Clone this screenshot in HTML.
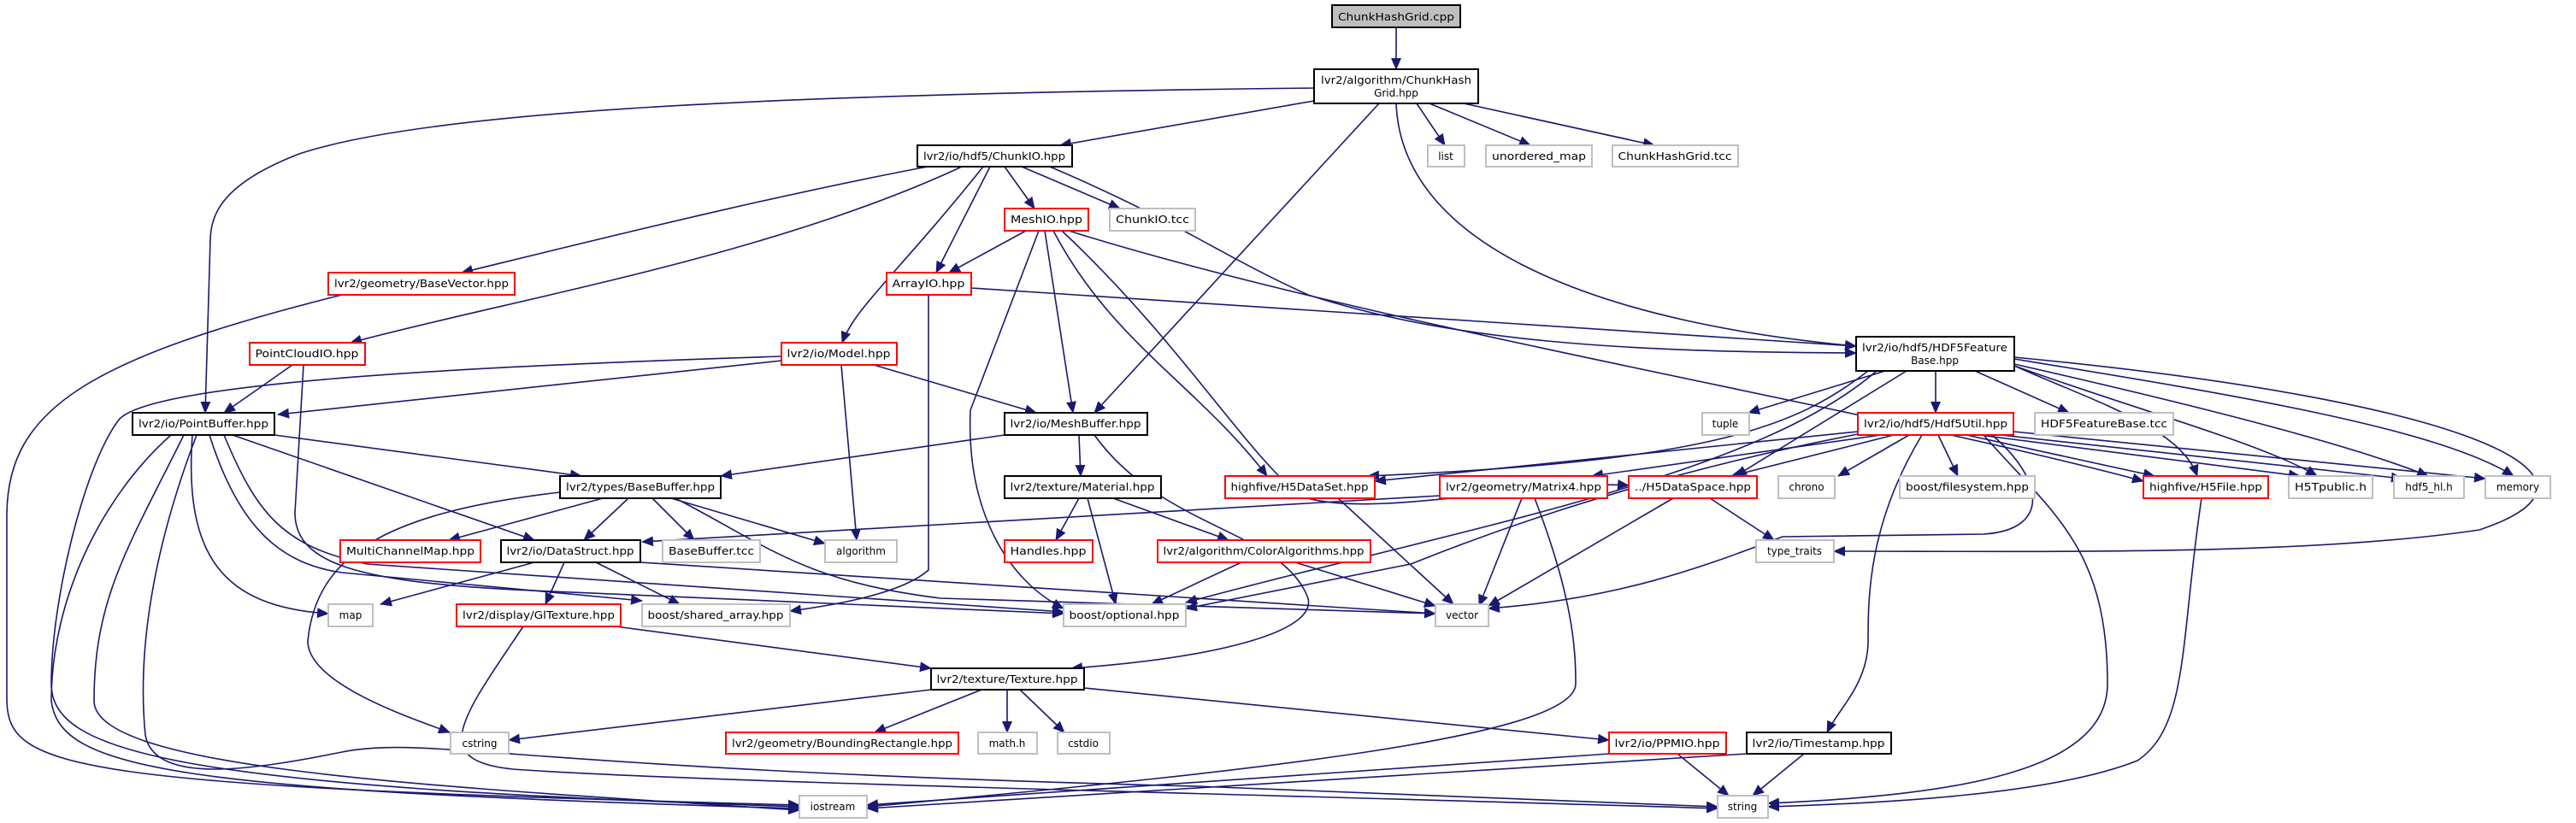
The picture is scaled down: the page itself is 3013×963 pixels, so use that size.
<!DOCTYPE html>
<html><head><meta charset="utf-8"><style>
html,body{margin:0;padding:0;background:#fff;}
svg{display:block}
text{font-family:"DejaVu Sans","Liberation Sans",sans-serif;font-size:12px;fill:#000}
.e{fill:none;stroke:#191970;stroke-width:1.6}
.b{fill:#fff;stroke:#000;stroke-width:2}
.r{fill:#fff;stroke:#ff0000;stroke-width:2}
.g{fill:#fff;stroke:#bfbfbf;stroke-width:2}
</style></head><body>
<svg width="3013" height="963" viewBox="0 0 3013 963" xmlns="http://www.w3.org/2000/svg">
<defs><marker id="a" markerUnits="userSpaceOnUse" markerWidth="14" markerHeight="12" refX="13" refY="6" orient="auto"><path d="M0,0 L14,6 L0,12 z" fill="#191970"/></marker></defs>
<g class="e" marker-end="url(#a)">
<path d="M1633,32 L1633,81"/>
<path d="M1537,118 L1240,170"/>
<path d="M1537,103 C900,110 500,130 350,180 C260,215 247,250 246,280 L240,483"/>
<path d="M1613,121 L1280,483"/>
<path d="M1657,121 L1690,170"/>
<path d="M1672,121 L1790,170"/>
<path d="M1712,121 L1935,170"/>
<path d="M1633,121 C1640,300 1900,380 2171,405"/>
<path d="M1085,195 C900,230 700,280 540,319"/>
<path d="M1125,195 C900,300 600,350 410,401"/>
<path d="M1150,195 C1050,320 1000,360 985,401"/>
<path d="M1158,195 L1095,319"/>
<path d="M1175,195 L1210,244"/>
<path d="M1195,195 L1310,244"/>
<path d="M1228,195 C1380,260 1430,300 1530,345 C1700,400 1900,412 2171,413"/>
<path d="M1200,270 L1110,319"/>
<path d="M1222,270 L1255,483"/>
<path d="M1215,270 L1135,480 C1130,600 1180,680 1244,712"/>
<path d="M1232,270 C1300,400 1400,450 1482,557"/>
<path d="M1242,270 C1380,400 1450,520 1520,580 C1600,610 1800,560 1905,568"/>
<path d="M1250,270 C1600,380 2200,480 2507,563"/>
<path d="M1136,337 L2171,405"/>
<path d="M1086,345 L1086,667 C1060,690 1000,705 924,715"/>
<path d="M342,427 L262,483"/>
<path d="M355,427 L345,600 C345,660 420,680 600,690 L1244,718"/>
<path d="M914,422 L325,485"/>
<path d="M914,417 C500,430 180,450 140,490 C100,540 60,700 60,800 C60,880 200,920 935,944"/>
<path d="M984,427 L1002,632"/>
<path d="M1022,427 L1212,483"/>
<path d="M321,509 L680,557"/>
<path d="M272,509 L625,632"/>
<path d="M225,509 C215,650 260,710 384,718"/>
<path d="M245,509 C280,620 330,660 400,670 L751,703"/>
<path d="M262,509 C300,600 330,640 430,660 L1244,716"/>
<path d="M200,509 C120,580 60,700 60,820 C70,900 200,925 935,946"/>
<path d="M215,509 C150,640 110,700 110,820 C110,900 500,920 935,948"/>
<path d="M230,509 C180,640 160,760 170,860 C180,920 300,900 400,880 C500,860 600,900 1400,920 L2009,944"/>
<path d="M400,345 C100,420 10,480 8,600 L8,820 C10,900 80,920 935,942"/>
<path d="M705,583 L525,632"/>
<path d="M735,583 L683,632"/>
<path d="M763,583 L812,632"/>
<path d="M785,583 L965,636"/>
<path d="M655,576 C450,600 370,650 360,750 C360,800 480,840 526,857"/>
<path d="M790,583 C900,640 940,680 1100,700 L1679,718"/>
<path d="M1175,509 L843,557"/>
<path d="M1262,509 L1264,557"/>
<path d="M1280,509 C1360,620 1500,620 1530,700 C1540,740 1420,770 1253,782"/>
<path d="M1262,583 L1235,632"/>
<path d="M1272,583 L1305,707"/>
<path d="M1302,583 L1437,632"/>
<path d="M1452,658 L1347,707"/>
<path d="M1515,658 L1679,709"/>
<path d="M625,658 L445,707"/>
<path d="M660,658 L638,707"/>
<path d="M697,658 L795,707"/>
<path d="M749,658 L1679,718"/>
<path d="M720,733 L1089,782"/>
<path d="M612,733 C540,840 500,890 600,900 C800,915 1500,930 2009,946"/>
<path d="M1089,807 L595,866"/>
<path d="M1148,807 L1023,857"/>
<path d="M1178,807 L1178,857"/>
<path d="M1193,807 L1245,857"/>
<path d="M1268,805 L1882,866"/>
<path d="M1882,882 L1014,942"/>
<path d="M1962,882 L2022,931"/>
<path d="M2043,882 L1014,946"/>
<path d="M2110,882 L2050,931"/>
<path d="M1684,580 L751,634"/>
<path d="M1780,583 L1730,709"/>
<path d="M1795,583 C1840,700 1843,760 1843,800 C1843,860 1500,900 1014,944"/>
<path d="M1957,583 L1741,709"/>
<path d="M2000,583 L2075,632"/>
<path d="M1565,583 L1700,707"/>
<path d="M2575,583 C2550,750 2560,850 2500,890 C2400,930 2200,940 2068,944"/>
<path d="M2173,505 L1608,563"/>
<path d="M2200,509 L1862,557"/>
<path d="M2215,509 L2025,557"/>
<path d="M2233,509 L2150,557"/>
<path d="M2267,509 L2290,557"/>
<path d="M2300,509 L2520,557"/>
<path d="M2315,509 L2690,557"/>
<path d="M2340,509 L2810,560"/>
<path d="M2355,505 L2907,560"/>
<path d="M2248,509 C2185,613 2185,700 2185,750 C2185,800 2150,830 2137,857"/>
<path d="M2320,509 C2400,600 2465,640 2465,800 C2465,900 2300,930 2068,940"/>
<path d="M2330,509 C2390,560 2400,620 2320,625 L2085,628 C2000,660 1900,700 1741,712"/>
<path d="M2173,508 C1900,560 1700,640 1650,660 L1387,712"/>
<path d="M2205,434 L2045,483"/>
<path d="M2264,434 L2264,483"/>
<path d="M2310,434 L2420,483"/>
<path d="M2185,434 C2100,500 2000,540 1600,557"/>
<path d="M2230,434 L2030,557"/>
<path d="M2356,428 C2450,470 2550,500 2570,557"/>
<path d="M2356,428 C2500,480 2650,520 2710,557"/>
<path d="M2356,426 C2550,470 2750,520 2840,557"/>
<path d="M2356,420 C2600,460 2850,500 2940,557"/>
<path d="M2356,418 C2900,470 3080,560 2900,620 C2700,650 2400,645 2145,645"/>
<path d="M2195,434 C2050,560 1700,620 1387,705"/>
</g>
<g>
<rect x="1558" y="6" width="150" height="26" fill="#bfbfbf" stroke="#000" stroke-width="2"/><text x="1633" y="24" text-anchor="middle" textLength="136" lengthAdjust="spacingAndGlyphs">ChunkHashGrid.cpp</text>
<rect class="b" x="1537" y="81" width="192" height="40"/><text x="1633" y="98" text-anchor="middle" textLength="176" lengthAdjust="spacingAndGlyphs">lvr2/algorithm/ChunkHash</text><text x="1633" y="113" text-anchor="middle">Grid.hpp</text>
<rect class="g" x="1670" y="170" width="43" height="25"/><text x="1691" y="187" text-anchor="middle">list</text>
<rect class="g" x="1738" y="170" width="124" height="25"/><text x="1800" y="187" text-anchor="middle" textLength="110" lengthAdjust="spacingAndGlyphs">unordered_map</text>
<rect class="g" x="1886" y="170" width="147" height="25"/><text x="1959" y="187" text-anchor="middle" textLength="133" lengthAdjust="spacingAndGlyphs">ChunkHashGrid.tcc</text>
<rect class="b" x="2171" y="394" width="185" height="40"/><text x="2263" y="411" text-anchor="middle" textLength="170" lengthAdjust="spacingAndGlyphs">lvr2/io/hdf5/HDF5Feature</text><text x="2263" y="426" text-anchor="middle">Base.hpp</text>
<rect class="b" x="1073" y="170" width="181" height="25"/><text x="1163" y="187" text-anchor="middle" textLength="166" lengthAdjust="spacingAndGlyphs">lvr2/io/hdf5/ChunkIO.hpp</text>
<rect class="r" x="1175" y="244" width="98" height="26"/><text x="1224" y="261" text-anchor="middle" textLength="84" lengthAdjust="spacingAndGlyphs">MeshIO.hpp</text>
<rect class="g" x="1298" y="244" width="100" height="26"/><text x="1348" y="261" text-anchor="middle" textLength="86" lengthAdjust="spacingAndGlyphs">ChunkIO.tcc</text>
<rect class="r" x="384" y="319" width="218" height="26"/><text x="493" y="336" text-anchor="middle" textLength="204" lengthAdjust="spacingAndGlyphs">lvr2/geometry/BaseVector.hpp</text>
<rect class="r" x="1037" y="319" width="99" height="26"/><text x="1086" y="336" text-anchor="middle" textLength="85" lengthAdjust="spacingAndGlyphs">ArrayIO.hpp</text>
<rect class="r" x="292" y="401" width="135" height="26"/><text x="359" y="418" text-anchor="middle" textLength="121" lengthAdjust="spacingAndGlyphs">PointCloudIO.hpp</text>
<rect class="r" x="914" y="401" width="135" height="26"/><text x="981" y="418" text-anchor="middle" textLength="121" lengthAdjust="spacingAndGlyphs">lvr2/io/Model.hpp</text>
<rect class="b" x="155" y="483" width="166" height="26"/><text x="238" y="500" text-anchor="middle" textLength="152" lengthAdjust="spacingAndGlyphs">lvr2/io/PointBuffer.hpp</text>
<rect class="b" x="1175" y="483" width="167" height="26"/><text x="1258" y="500" text-anchor="middle" textLength="153" lengthAdjust="spacingAndGlyphs">lvr2/io/MeshBuffer.hpp</text>
<rect class="g" x="1991" y="483" width="55" height="26"/><text x="2018" y="500" text-anchor="middle">tuple</text>
<rect class="r" x="2173" y="483" width="182" height="26"/><text x="2264" y="500" text-anchor="middle" textLength="168" lengthAdjust="spacingAndGlyphs">lvr2/io/hdf5/Hdf5Util.hpp</text>
<rect class="g" x="2380" y="483" width="162" height="26"/><text x="2461" y="500" text-anchor="middle" textLength="148" lengthAdjust="spacingAndGlyphs">HDF5FeatureBase.tcc</text>
<rect class="b" x="655" y="557" width="188" height="26"/><text x="749" y="574" text-anchor="middle" textLength="174" lengthAdjust="spacingAndGlyphs">lvr2/types/BaseBuffer.hpp</text>
<rect class="b" x="1175" y="557" width="183" height="26"/><text x="1266" y="574" text-anchor="middle" textLength="169" lengthAdjust="spacingAndGlyphs">lvr2/texture/Material.hpp</text>
<rect class="r" x="1433" y="557" width="175" height="26"/><text x="1520" y="574" text-anchor="middle" textLength="161" lengthAdjust="spacingAndGlyphs">highfive/H5DataSet.hpp</text>
<rect class="r" x="1684" y="557" width="196" height="26"/><text x="1782" y="574" text-anchor="middle" textLength="182" lengthAdjust="spacingAndGlyphs">lvr2/geometry/Matrix4.hpp</text>
<rect class="r" x="1905" y="557" width="150" height="26"/><text x="1980" y="574" text-anchor="middle" textLength="136" lengthAdjust="spacingAndGlyphs">../H5DataSpace.hpp</text>
<rect class="g" x="2080" y="557" width="66" height="26"/><text x="2113" y="574" text-anchor="middle">chrono</text>
<rect class="g" x="2222" y="557" width="158" height="26"/><text x="2301" y="574" text-anchor="middle" textLength="144" lengthAdjust="spacingAndGlyphs">boost/filesystem.hpp</text>
<rect class="r" x="2507" y="557" width="146" height="26"/><text x="2580" y="574" text-anchor="middle" textLength="132" lengthAdjust="spacingAndGlyphs">highfive/H5File.hpp</text>
<rect class="g" x="2677" y="557" width="98" height="26"/><text x="2726" y="574" text-anchor="middle" textLength="84" lengthAdjust="spacingAndGlyphs">H5Tpublic.h</text>
<rect class="g" x="2800" y="557" width="82" height="26"/><text x="2841" y="574" text-anchor="middle">hdf5_hl.h</text>
<rect class="g" x="2907" y="557" width="76" height="26"/><text x="2945" y="574" text-anchor="middle">memory</text>
<rect class="r" x="398" y="632" width="164" height="26"/><text x="480" y="649" text-anchor="middle" textLength="150" lengthAdjust="spacingAndGlyphs">MultiChannelMap.hpp</text>
<rect class="b" x="586" y="632" width="163" height="26"/><text x="667" y="649" text-anchor="middle" textLength="149" lengthAdjust="spacingAndGlyphs">lvr2/io/DataStruct.hpp</text>
<rect class="g" x="775" y="632" width="114" height="26"/><text x="832" y="649" text-anchor="middle" textLength="100" lengthAdjust="spacingAndGlyphs">BaseBuffer.tcc</text>
<rect class="g" x="965" y="632" width="84" height="26"/><text x="1007" y="649" text-anchor="middle">algorithm</text>
<rect class="r" x="1175" y="632" width="103" height="26"/><text x="1226" y="649" text-anchor="middle" textLength="89" lengthAdjust="spacingAndGlyphs">Handles.hpp</text>
<rect class="r" x="1354" y="632" width="249" height="26"/><text x="1478" y="649" text-anchor="middle" textLength="235" lengthAdjust="spacingAndGlyphs">lvr2/algorithm/ColorAlgorithms.hpp</text>
<rect class="g" x="2054" y="632" width="91" height="26"/><text x="2099" y="649" text-anchor="middle">type_traits</text>
<rect class="g" x="384" y="707" width="52" height="26"/><text x="410" y="724" text-anchor="middle">map</text>
<rect class="r" x="534" y="707" width="192" height="26"/><text x="630" y="724" text-anchor="middle" textLength="178" lengthAdjust="spacingAndGlyphs">lvr2/display/GlTexture.hpp</text>
<rect class="g" x="751" y="707" width="173" height="26"/><text x="837" y="724" text-anchor="middle" textLength="159" lengthAdjust="spacingAndGlyphs">boost/shared_array.hpp</text>
<rect class="g" x="1244" y="707" width="143" height="26"/><text x="1315" y="724" text-anchor="middle" textLength="129" lengthAdjust="spacingAndGlyphs">boost/optional.hpp</text>
<rect class="g" x="1679" y="707" width="62" height="26"/><text x="1710" y="724" text-anchor="middle">vector</text>
<rect class="b" x="1089" y="782" width="179" height="25"/><text x="1178" y="799" text-anchor="middle" textLength="165" lengthAdjust="spacingAndGlyphs">lvr2/texture/Texture.hpp</text>
<rect class="g" x="527" y="857" width="68" height="25"/><text x="561" y="874" text-anchor="middle">cstring</text>
<rect class="r" x="849" y="857" width="272" height="25"/><text x="985" y="874" text-anchor="middle" textLength="258" lengthAdjust="spacingAndGlyphs">lvr2/geometry/BoundingRectangle.hpp</text>
<rect class="g" x="1144" y="857" width="69" height="25"/><text x="1178" y="874" text-anchor="middle">math.h</text>
<rect class="g" x="1237" y="857" width="61" height="25"/><text x="1267" y="874" text-anchor="middle">cstdio</text>
<rect class="r" x="1882" y="857" width="137" height="25"/><text x="1950" y="874" text-anchor="middle" textLength="123" lengthAdjust="spacingAndGlyphs">lvr2/io/PPMIO.hpp</text>
<rect class="b" x="2043" y="857" width="169" height="25"/><text x="2127" y="874" text-anchor="middle" textLength="155" lengthAdjust="spacingAndGlyphs">lvr2/io/Timestamp.hpp</text>
<rect class="g" x="935" y="931" width="79" height="26"/><text x="974" y="948" text-anchor="middle">iostream</text>
<rect class="g" x="2009" y="931" width="59" height="26"/><text x="2038" y="948" text-anchor="middle">string</text>
</g>
</svg>
</body></html>
